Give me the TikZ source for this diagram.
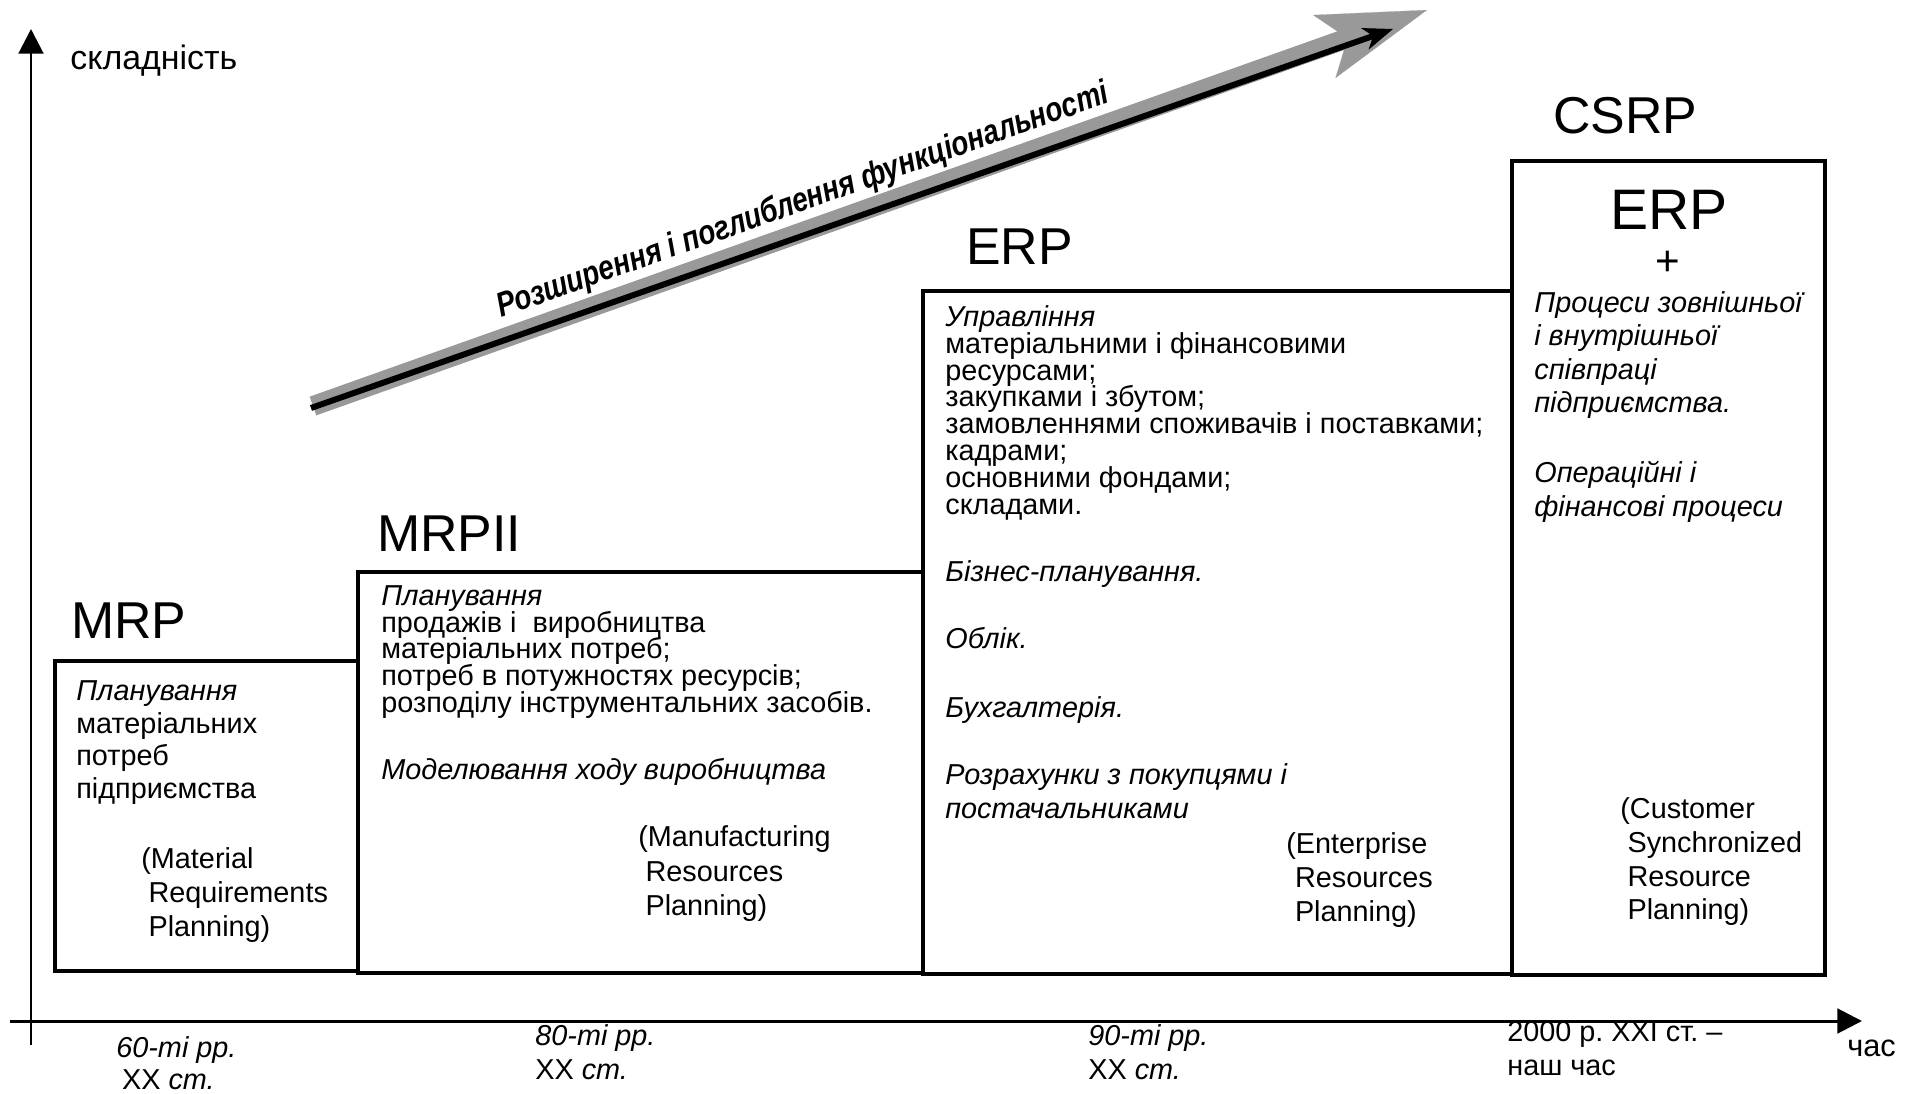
\documentclass[tikz,border=0pt]{standalone}
\usepackage{fontspec}
\setmainfont{Liberation Sans}
\usetikzlibrary{arrows.meta}
\definecolor{trendgray}{RGB}{153,153,153}
\setlength{\lineskiplimit}{-20pt}
\frenchspacing

\begin{document}
\begin{tikzpicture}[x=0.2mm, y=-0.2mm,
	box/.style={line width=2.8pt, line join=miter},
	axis/.style={line width=1.7pt, -{Triangle[length=14pt,width=14pt]}},
	sysname/.style={anchor=west, inner sep=0pt, font=\fontsize{29.5}{32}\selectfont},
	txt/.style={anchor=north west, inner sep=0pt, align=left, font=\fontsize{16.4}{#1}\selectfont},
	txt/.default=19,
	shade/.style={draw=trendgray, line width=11.3pt, -{Stealth[length=62pt,width=38pt,inset=14pt,line width=0.1pt]}},
	trend/.style={draw=black, line width=3.4pt, -{Stealth[length=17pt,width=13pt,inset=5pt,line width=0.5pt]}}]
	\useasboundingbox (0,0) rectangle (1917,1094);

	\coordinate (yfoot) at (31,1045);
	\coordinate (ytop)  at (31,29);
	\coordinate (xfoot) at (10,1021);
	\coordinate (xtip)  at (1862,1021);
	\draw[axis] (yfoot) -- (ytop);
	\draw[axis] (xfoot) -- (xtip);
	\node[anchor=west, inner sep=0pt, font=\fontsize{19.3}{22}\selectfont] (complexity) at (70,61) {складність};
	\node[anchor=west, inner sep=0pt, font=\fontsize{17.5}{20}\selectfont] (time) at (1847,1048) {час};

	\coordinate (shadestart) at (313,406);
	\coordinate (shadetip)   at (1427,10);
	\coordinate (trendstart) at (311,408);
	\coordinate (trendtip)   at (1393,29);
	\draw[shade] (shadestart) -- (shadetip);
	\draw[trend] (trendstart) -- (trendtip);
	\node[rotate=19.5, anchor=base, inner sep=0pt, font=\fontsize{19.5}{22}\selectfont\bfseries\itshape] (trendtext) at (806,210) {\scalebox{0.81}[1]{Розширення і поглиблення функціональності}};

	\draw[box] (55,661)   rectangle (358,971);
	\draw[box] (358,572)  rectangle (923,973);
	\draw[box] (923,291)  rectangle (1512,974);
	\draw[box] (1512,161) rectangle (1825,975);

	\node[sysname] (mrp)   at (71,621)   {MRP};
	\node[sysname] (mrpii) at (377,534)  {MRPII};
	\node[sysname] (erp)   at (966,247)  {ERP};
	\node[sysname] (csrp)  at (1553,116) {CSRP};
	\node[sysname, anchor=center, font=\fontsize{32.5}{34}\selectfont] (csrperp) at (1669,210) {ERP};
	\node[inner sep=0pt, font=\fontsize{24}{26}\selectfont] (plus) at (1668,263) {+};

	\node[txt=18.7] (mrpdesc) at (76,680) {\textit{Планування}\\матеріальних\\потреб\\підприємства};
	\node[txt=19.3] (mrpfull) at (141,847) {(Material\\\hspace*{.25em}Requirements\\\hspace*{.25em}Planning)};

	\node[txt=15.3] (mrpiidesc) at (381,585) {\textit{Планування}\\продажів і~ виробництва\\матеріальних потреб;\\потреб в потужностях ресурсів;\\розподілу інструментальних засобів.};
	\node[txt] (mrpiimodel) at (381,758) {\textit{Моделювання ходу виробництва}};
	\node[txt=19.8] (mrpiifull) at (638,825) {(Manufacturing\\\hspace*{.25em}Resources\\\hspace*{.25em}Planning)};

	\node[txt=15.3] (erpdesc) at (945,305) {\textit{Управління}\\матеріальними і фінансовими\\ресурсами;\\закупками і збутом;\\замовленнями споживачів і поставками;\\кадрами;\\основними фондами;\\складами.};
	\node[txt] (erpplan) at (945,560) {\textit{Бізнес-планування.}};
	\node[txt] (erpacc)  at (945,627) {\textit{Облік.}};
	\node[txt] (erpbook) at (945,696) {\textit{Бухгалтерія.}};
	\node[txt=19.3] (erpcalc) at (945,763) {\textit{Розрахунки з покупцями і}\\\textit{постачальниками}};
	\node[txt=19.3] (erpfull) at (1286,832) {(Enterprise\\\hspace*{.3em}Resources\\\hspace*{.3em}Planning)};

	\node[txt=19.1] (csrpdesc) at (1534,291) {\textit{Процеси зовнішньої}\\\textit{і внутрішньої}\\\textit{співпраці}\\\textit{підприємства.}};
	\node[txt=19] (csrpops) at (1534,461) {\textit{Операційні і}\\\textit{фінансові процеси}};
	\node[txt=19.3] (csrpfull) at (1620,797) {(Customer\\\hspace*{.25em}Synchronized\\\hspace*{.25em}Resource\\\hspace*{.25em}Planning)};

	\node[txt=18.1] (t60)   at (116,1036)  {\textit{60-ті рр.}\\\hspace*{.2em}XX \textit{ст.}};
	\node[txt=19.3] (t80)   at (535,1024)  {\textit{80-ті рр.}\\XX \textit{ст.}};
	\node[txt=19.3] (t90)   at (1088,1024) {\textit{90-ті рр.}\\XX \textit{ст.}};
	\node[txt=19.3] (t2000) at (1507,1021) {2000 р. XXI ст. –\\наш час};
\end{tikzpicture}
\end{document}
